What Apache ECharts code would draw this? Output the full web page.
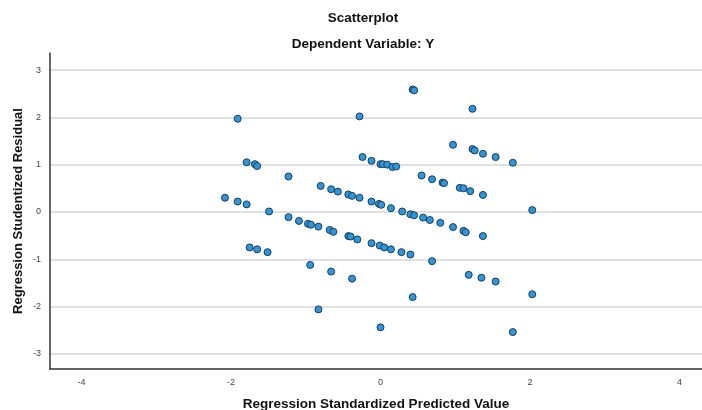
<!DOCTYPE html>
<html>
<head>
<meta charset="utf-8">
<script src="https://cdn.jsdelivr.net/npm/echarts@6/dist/echarts.min.js"></script>
<style>
  html, body { margin: 0; padding: 0; background: #fff; }
  #chart { width: 702px; height: 410px; }
</style>
</head>
<body>
<div id="chart"></div>
<script>
  // standardized predicted value (x)
  var predicted = [
    -1.91, -0.28, -1.79, -1.68, -1.65, -1.23, -0.24, -0.12, 0.00, 0.03,
    0.09, 0.16, 0.21, -0.80, -0.66, -0.57, -0.43, -0.38, -0.28, -0.12,
    -0.02, 0.01, 0.14, 0.29, -2.08, -1.91, -1.79, -1.49, -1.23, -1.09,
    -0.97, -0.93, -0.83, -0.68, -0.63, -0.43, -0.40, -0.31, -0.12, -0.01,
    0.05, 0.14, 0.28, 0.40, 0.69, -1.75, -1.65, -1.51, -0.94, -0.66,
    -0.38, -0.83, 0.00, 0.43, 0.45, 1.23, 0.97, 1.23, 1.26, 1.37,
    1.54, 1.77, 0.55, 0.69, 0.83, 0.85, 1.06, 1.11, 1.20, 1.37,
    0.40, 0.45, 0.57, 0.66, 0.80, 0.97, 1.11, 1.14, 1.37, 2.03,
    1.18, 1.35, 1.54, 0.43, 2.03, 1.77
  ];
  // studentized residual (y)
  var residual = [
    1.97, 2.02, 1.05, 1.01, 0.97, 0.75, 1.16, 1.08, 1.01, 1.01,
    1.00, 0.95, 0.96, 0.55, 0.48, 0.43, 0.37, 0.34, 0.30, 0.22,
    0.17, 0.15, 0.08, 0.01, 0.30, 0.22, 0.16, 0.01, -0.11, -0.19,
    -0.25, -0.27, -0.31, -0.38, -0.42, -0.51, -0.52, -0.58, -0.66, -0.71,
    -0.75, -0.79, -0.85, -0.90, -1.04, -0.75, -0.79, -0.85, -1.12, -1.26,
    -1.41, -2.06, -2.44, 2.59, 2.57, 2.18, 1.42, 1.33, 1.30, 1.23,
    1.16, 1.04, 0.77, 0.69, 0.62, 0.61, 0.51, 0.50, 0.44, 0.36,
    -0.05, -0.07, -0.12, -0.17, -0.23, -0.32, -0.40, -0.43, -0.51, 0.04,
    -1.33, -1.39, -1.47, -1.80, -1.74, -2.54
  ];
  var xTicks = [-4, -2, 0, 2, 4];
  var yTicks = [-3, -2, -1, 0, 1, 2, 3];

  var chart = echarts.init(document.getElementById('chart'));
  var font = 'Liberation Sans, Arial, sans-serif';

  chart.setOption({
    backgroundColor: '#ffffff',
    animation: false,
    title: [{
      text: 'Scatterplot',
      left: 358,
      top: 6,
      textAlign: 'center',
      textStyle: { fontFamily: font, fontSize: 13.5, fontWeight: 'bold', color: '#111' }
    }, {
      text: 'Dependent Variable: Y',
      left: 358,
      top: 32,
      textAlign: 'center',
      textStyle: { fontFamily: font, fontSize: 13.5, fontWeight: 'bold', color: '#111' }
    }],
    grid: {
      left: 50,
      right: 0,
      top: 53,
      bottom: 41,
      outerBoundsMode: 'none'
    },
    xAxis: {
      type: 'value',
      min: -4.42,
      max: 4.30,
      name: 'Regression Standardized Predicted Value',
      nameLocation: 'middle',
      nameGap: 28,
      nameMoveOverlap: false,
      nameTextStyle: { fontFamily: font, fontSize: 13.5, fontWeight: 'bold', color: '#111' },
      axisLine: { show: true, onZero: false, lineStyle: { color: '#333', width: 1.5 } },
      axisTick: { show: false, customValues: xTicks },
      axisLabel: {
        customValues: xTicks,
        margin: 9,
        fontFamily: font, fontSize: 9, color: '#444'
      },
      splitLine: { show: false }
    },
    yAxis: {
      type: 'value',
      min: -3.32,
      max: 3.36,
      name: 'Regression Studentized Residual',
      nameLocation: 'middle',
      nameGap: 25,
      nameMoveOverlap: false,
      nameTextStyle: { fontFamily: font, fontSize: 13, fontWeight: 'bold', color: '#111' },
      axisLine: { show: true, onZero: false, lineStyle: { color: '#333', width: 1.5 } },
      axisTick: { show: false, customValues: yTicks },
      axisLabel: {
        customValues: yTicks,
        margin: 9,
        fontFamily: font, fontSize: 9, color: '#444'
      },
      splitLine: { show: true, lineStyle: { color: '#d6d6d6', width: 1.5 } }
    },
    series: [{
      type: 'scatter',
      symbol: 'circle',
      symbolSize: 7,
      itemStyle: {
        color: '#2b97dc',
        borderColor: '#1f3b57',
        borderWidth: 1,
        opacity: 1
      },
      data: predicted.map(function (x, i) { return [x, residual[i]]; })
    }]
  });
</script>
</body>
</html>
